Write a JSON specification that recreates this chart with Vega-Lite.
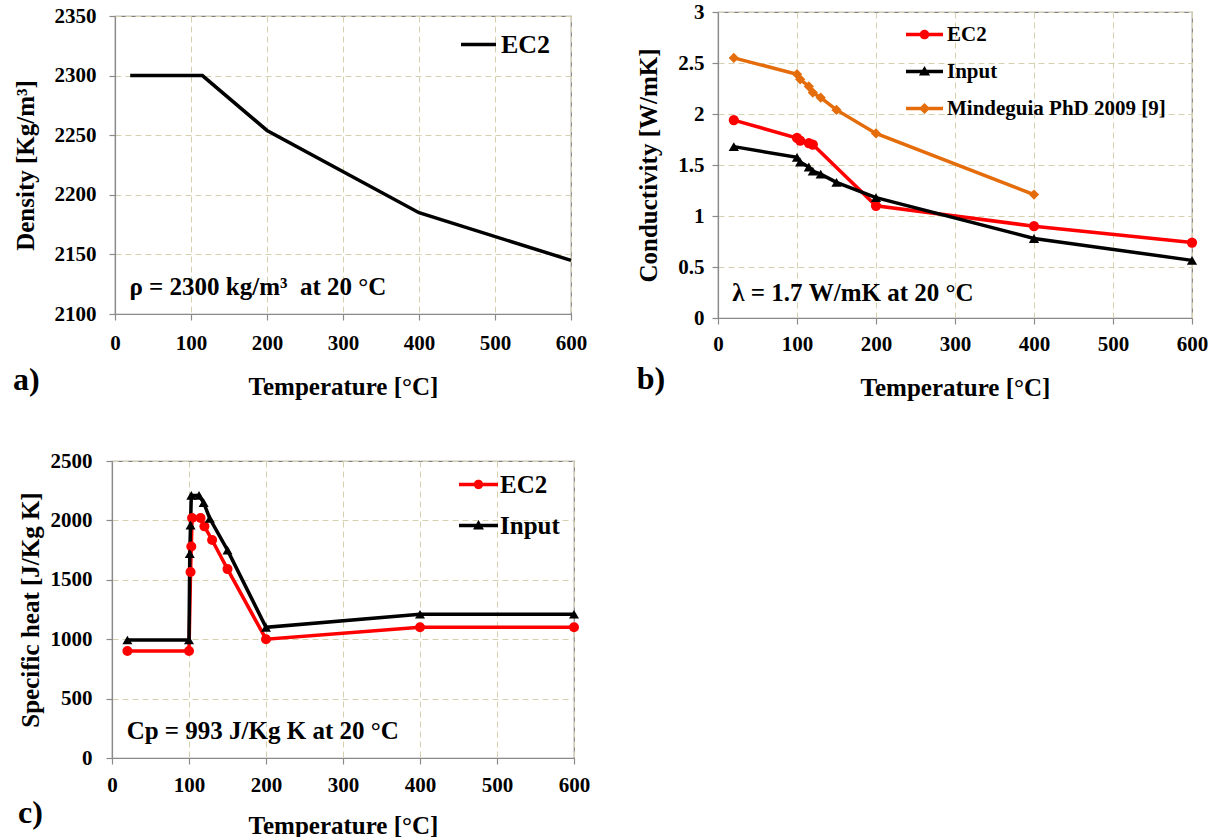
{
  "$schema": "https://vega.github.io/schema/vega-lite/v6.json",
  "background": "white",
  "padding": {"left": 12, "top": 0, "right": 5, "bottom": 0},
  "columns": 2,
  "align": "each",
  "bounds": "flush",
  "center": true,
  "spacing": {"row": 143, "column": 144},
  "resolve": {
    "scale": {"color": "independent", "shape": "independent", "stroke": "independent", "x": "independent", "y": "independent"},
    "legend": {"color": "independent", "shape": "independent", "stroke": "independent"}
  },
  "config": {
    "font": "Liberation Serif",
    "view": {"stroke": "#7f7f7f", "strokeWidth": 1.2},
    "axis": {
      "labelFont": "Liberation Serif", "labelFontWeight": "bold", "labelFontSize": 21, "labelColor": "black",
      "titleFont": "Liberation Serif", "titleFontWeight": "bold", "titleFontSize": 25, "titleColor": "black",
      "domainColor": "#8a8a8a", "domainWidth": 1.2, "tickColor": "#8a8a8a", "tickSize": 6, "tickWidth": 1.2,
      "gridColor": "#d6d0ae", "gridDash": [6, 4], "gridWidth": 1,
      "labelFlush": false, "labelOverlap": false, "labelExpr": "format(datum.value, '~g')"
    },
    "legend": {
      "labelFont": "Liberation Serif", "labelFontWeight": "bold", "labelColor": "black",
      "padding": 0, "labelLimit": 400
    }
  },
  "datasets": {
    "density": [
      {"T": 20, "rho": 2300, "series": "EC2"},
      {"T": 115, "rho": 2300, "series": "EC2"},
      {"T": 200, "rho": 2254, "series": "EC2"},
      {"T": 400, "rho": 2185, "series": "EC2"},
      {"T": 600, "rho": 2145, "series": "EC2"}
    ],
    "conductivity": [
      {"T": 20, "lambda": 1.94, "series": "EC2"},
      {"T": 100, "lambda": 1.765, "series": "EC2"},
      {"T": 104, "lambda": 1.74, "series": "EC2"},
      {"T": 115, "lambda": 1.715, "series": "EC2"},
      {"T": 120, "lambda": 1.7, "series": "EC2"},
      {"T": 200, "lambda": 1.1, "series": "EC2"},
      {"T": 400, "lambda": 0.9, "series": "EC2"},
      {"T": 600, "lambda": 0.74, "series": "EC2"},
      {"T": 20, "lambda": 1.68, "series": "Input"},
      {"T": 100, "lambda": 1.575, "series": "Input"},
      {"T": 104, "lambda": 1.53, "series": "Input"},
      {"T": 115, "lambda": 1.48, "series": "Input"},
      {"T": 120, "lambda": 1.44, "series": "Input"},
      {"T": 130, "lambda": 1.41, "series": "Input"},
      {"T": 150, "lambda": 1.33, "series": "Input"},
      {"T": 200, "lambda": 1.18, "series": "Input"},
      {"T": 400, "lambda": 0.78, "series": "Input"},
      {"T": 600, "lambda": 0.565, "series": "Input"},
      {"T": 20, "lambda": 2.55, "series": "Mindeguia PhD 2009 [9]"},
      {"T": 100, "lambda": 2.39, "series": "Mindeguia PhD 2009 [9]"},
      {"T": 104, "lambda": 2.34, "series": "Mindeguia PhD 2009 [9]"},
      {"T": 115, "lambda": 2.27, "series": "Mindeguia PhD 2009 [9]"},
      {"T": 120, "lambda": 2.21, "series": "Mindeguia PhD 2009 [9]"},
      {"T": 130, "lambda": 2.16, "series": "Mindeguia PhD 2009 [9]"},
      {"T": 150, "lambda": 2.04, "series": "Mindeguia PhD 2009 [9]"},
      {"T": 200, "lambda": 1.81, "series": "Mindeguia PhD 2009 [9]"},
      {"T": 400, "lambda": 1.21, "series": "Mindeguia PhD 2009 [9]"}
    ],
    "cp": [
      {"T": 20, "cp": 900, "series": "EC2"},
      {"T": 100, "cp": 900, "series": "EC2"},
      {"T": 102, "cp": 1565, "series": "EC2"},
      {"T": 103, "cp": 1780, "series": "EC2"},
      {"T": 104, "cp": 2020, "series": "EC2"},
      {"T": 115, "cp": 2020, "series": "EC2"},
      {"T": 120, "cp": 1950, "series": "EC2"},
      {"T": 130, "cp": 1835, "series": "EC2"},
      {"T": 150, "cp": 1590, "series": "EC2"},
      {"T": 200, "cp": 1000, "series": "EC2"},
      {"T": 400, "cp": 1100, "series": "EC2"},
      {"T": 600, "cp": 1100, "series": "EC2"},
      {"T": 20, "cp": 993, "series": "Input"},
      {"T": 100, "cp": 993, "series": "Input"},
      {"T": 101, "cp": 1720, "series": "Input"},
      {"T": 102, "cp": 1960, "series": "Input"},
      {"T": 103, "cp": 2210, "series": "Input"},
      {"T": 113, "cp": 2210, "series": "Input"},
      {"T": 119, "cp": 2150, "series": "Input"},
      {"T": 127, "cp": 2016, "series": "Input"},
      {"T": 150, "cp": 1750, "series": "Input"},
      {"T": 200, "cp": 1100, "series": "Input"},
      {"T": 400, "cp": 1210, "series": "Input"},
      {"T": 600, "cp": 1210, "series": "Input"}
    ]
  },
  "concat": [
    {
      "width": 456, "height": 298,
      "title": {"text": "a)", "orient": "bottom", "anchor": "start", "frame": "bounds", "offset": -34, "fontSize": 32, "font": "Liberation Serif", "fontWeight": "bold", "color": "black"},
      "data": {"name": "density"},
      "layer": [
        {
          "mark": {"type": "line", "strokeWidth": 3.5},
          "encoding": {
            "x": {"field": "T", "type": "quantitative", "scale": {"domain": [0, 600], "nice": false},
                  "axis": {"values": [0, 100, 200, 300, 400, 500, 600], "title": "Temperature [°C]", "labelPadding": 12, "titlePadding": 21}},
            "y": {"field": "rho", "type": "quantitative", "scale": {"domain": [2100, 2350], "nice": false, "zero": false},
                  "axis": {"values": [2100, 2150, 2200, 2250, 2300, 2350], "title": "Density [Kg/m³]", "labelPadding": 13, "titlePadding": 16}},
            "color": {"field": "series", "type": "nominal", "scale": {"domain": ["EC2"], "range": ["black"]},
                      "legend": {"orient": "none", "legendX": 344, "legendY": 9, "title": null, "symbolType": "stroke", "symbolSize": 1225, "symbolStrokeWidth": 3.5, "labelFontSize": 26, "labelOffset": 3}}
          }
        },
        {
          "data": {"values": [{"note": "ρ = 2300 kg/m³ \u00a0at 20 °C"}]},
          "mark": {"type": "text", "align": "left", "baseline": "alphabetic", "fontSize": 25, "fontWeight": "bold", "font": "Liberation Serif", "color": "black"},
          "encoding": {
            "x": {"datum": 19, "type": "quantitative"},
            "y": {"datum": 2116, "type": "quantitative"},
            "text": {"field": "note"}
          }
        }
      ]
    },
    {
      "width": 474, "height": 306,
      "title": {"text": "b)", "orient": "bottom", "anchor": "start", "frame": "bounds", "offset": -36, "fontSize": 32, "font": "Liberation Serif", "fontWeight": "bold", "color": "black"},
      "data": {"name": "conductivity"},
      "layer": [
        {
          "mark": {"type": "line", "strokeWidth": 3.5},
          "encoding": {
            "x": {"field": "T", "type": "quantitative", "scale": {"domain": [0, 600], "nice": false},
                  "axis": {"values": [0, 100, 200, 300, 400, 500, 600], "title": "Temperature [°C]", "labelPadding": 9, "titlePadding": 21}},
            "y": {"field": "lambda", "type": "quantitative", "scale": {"domain": [0, 3], "nice": false},
                  "axis": {"values": [0, 0.5, 1, 1.5, 2, 2.5, 3], "title": "Conductivity  [W/mK]", "labelPadding": 8, "titlePadding": 16}},
            "stroke": {"field": "series", "type": "nominal", "legend": null, "scale": {"range": ["#ff0000", "#000000", "#e46c0a"]}}
          }
        },
        {
          "mark": {"type": "point", "filled": true, "size": 105, "opacity": 1},
          "encoding": {
            "x": {"field": "T", "type": "quantitative", "scale": {"domain": [0, 600], "nice": false},
                  "axis": {"values": [0, 100, 200, 300, 400, 500, 600], "title": "Temperature [°C]", "labelPadding": 9, "titlePadding": 21}},
            "y": {"field": "lambda", "type": "quantitative", "scale": {"domain": [0, 3], "nice": false},
                  "axis": {"values": [0, 0.5, 1, 1.5, 2, 2.5, 3], "title": "Conductivity  [W/mK]", "labelPadding": 8, "titlePadding": 16}},
            "shape": {"field": "series", "type": "nominal", "legend": null, "scale": {"range": ["circle", "triangle-up", "diamond"]}},
            "color": {"field": "series", "type": "nominal", "scale": {"domain": ["EC2", "Input", "Mindeguia PhD 2009 [9]"], "range": ["#ff0000", "#000000", "#e46c0a"]},
              "legend": {"orient": "none", "legendX": 188, "legendY": 4, "title": null, "symbolSize": 1369, "symbolStrokeWidth": 0, "symbolOpacity": 1, "labelFontSize": 21, "labelOffset": 4, "rowPadding": 8,
                "encode": {"symbols": {"update": {"shape": {"signal": "datum.value === 'EC2' ? 'M-1,-0.095H1V0.095H-1Z M-0.26,0A0.26,0.26,0,1,1,0.26,0A0.26,0.26,0,1,1,-0.26,0Z' : datum.value === 'Input' ? 'M-1,-0.095H1V0.095H-1Z M0,-0.3L0.3,0.22L-0.3,0.22Z' : 'M-1,-0.095H1V0.095H-1Z M0,-0.3L0.3,0L0,0.3L-0.3,0Z'"}}}}}
            }
          }
        },
        {
          "data": {"values": [{"note": "λ = 1.7 W/mK at 20 °C"}]},
          "mark": {"type": "text", "align": "left", "baseline": "alphabetic", "fontSize": 25, "fontWeight": "bold", "font": "Liberation Serif", "color": "black"},
          "encoding": {
            "x": {"datum": 18, "type": "quantitative"},
            "y": {"datum": 0.164, "type": "quantitative"},
            "text": {"field": "note"}
          }
        }
      ]
    },
    {
      "width": 462, "height": 297,
      "title": {"text": "c)", "orient": "bottom", "anchor": "start", "frame": "bounds", "offset": -40, "fontSize": 32, "font": "Liberation Serif", "fontWeight": "bold", "color": "black"},
      "data": {"name": "cp"},
      "layer": [
        {
          "mark": {"type": "line", "strokeWidth": 3.5},
          "encoding": {
            "x": {"field": "T", "type": "quantitative", "scale": {"domain": [0, 600], "nice": false},
                  "axis": {"values": [0, 100, 200, 300, 400, 500, 600], "title": "Temperature [°C]", "labelPadding": 10, "titlePadding": 18}},
            "y": {"field": "cp", "type": "quantitative", "scale": {"domain": [0, 2500], "nice": false},
                  "axis": {"values": [0, 500, 1000, 1500, 2000, 2500], "title": "Specific  heat [J/Kg K]", "labelPadding": 14, "titlePadding": 7}},
            "stroke": {"field": "series", "type": "nominal", "legend": null, "scale": {"range": ["#ff0000", "#000000"]}}
          }
        },
        {
          "mark": {"type": "point", "filled": true, "size": 100, "opacity": 1},
          "encoding": {
            "x": {"field": "T", "type": "quantitative", "scale": {"domain": [0, 600], "nice": false},
                  "axis": {"values": [0, 100, 200, 300, 400, 500, 600], "title": "Temperature [°C]", "labelPadding": 10, "titlePadding": 18}},
            "y": {"field": "cp", "type": "quantitative", "scale": {"domain": [0, 2500], "nice": false},
                  "axis": {"values": [0, 500, 1000, 1500, 2000, 2500], "title": "Specific  heat [J/Kg K]", "labelPadding": 14, "titlePadding": 7}},
            "shape": {"field": "series", "type": "nominal", "legend": null, "scale": {"range": ["circle", "triangle-up"]}},
            "color": {"field": "series", "type": "nominal", "scale": {"domain": ["EC2", "Input"], "range": ["#ff0000", "#000000"]},
              "legend": {"orient": "none", "legendX": 347, "legendY": 4, "title": null, "symbolSize": 1521, "symbolStrokeWidth": 0, "symbolOpacity": 1, "labelFontSize": 25, "labelOffset": 2, "rowPadding": 8,
                "encode": {"symbols": {"update": {"shape": {"signal": "datum.value === 'EC2' ? 'M-1,-0.09H1V0.09H-1Z M-0.24,0A0.24,0.24,0,1,1,0.24,0A0.24,0.24,0,1,1,-0.24,0Z' : 'M-1,-0.09H1V0.09H-1Z M0,-0.28L0.28,0.2L-0.28,0.2Z'"}}}}}
            }
          }
        },
        {
          "data": {"values": [{"note": "Cp = 993 J/Kg K at 20 °C"}]},
          "mark": {"type": "text", "align": "left", "baseline": "alphabetic", "fontSize": 25, "fontWeight": "bold", "font": "Liberation Serif", "color": "black"},
          "encoding": {
            "x": {"datum": 19, "type": "quantitative"},
            "y": {"datum": 160, "type": "quantitative"},
            "text": {"field": "note"}
          }
        }
      ]
    }
  ]
}
